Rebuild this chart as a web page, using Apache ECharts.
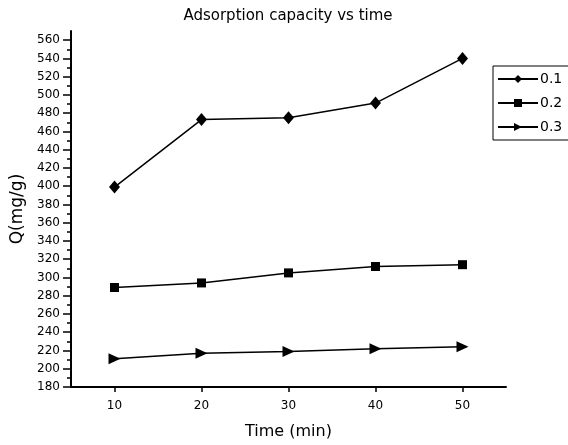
<!DOCTYPE html>
<html>
<head>
<meta charset="utf-8">
<title>Adsorption capacity vs time</title>
<script src="https://cdn.jsdelivr.net/npm/echarts@6/dist/echarts.min.js"></script>
<style>
  html, body { margin: 0; padding: 0; background: #fff; }
  #chart { width: 568px; height: 445px; }
</style>
</head>
<body>
<div id="chart"></div>
<script>
// --- data ---
const times = [10, 20, 30, 40, 50];
const q01 = [399, 473, 475, 491, 540];
const q02 = [289, 294, 305, 312, 314];
const q03 = [211, 217, 219, 222, 224];
const xTicks = [10, 20, 30, 40, 50];
const yTicks = [];
for (let v = 180; v <= 560; v += 20) yTicks.push(v);

const FONT = "DejaVu Sans";

function pairs(xs, ys) {
  return xs.map((x, i) => [x, ys[i]]);
}

function lineSeries(name, values, symbol, size, rotate) {
  return {
    name: name,
    type: "line",
    data: pairs(times, values),
    symbol: symbol,
    symbolSize: size,
    symbolRotate: rotate || 0,
    showAllSymbol: true,
    lineStyle: { color: "#000", width: 1.5 },
    itemStyle: { color: "#000" },
  };
}

const chart = echarts.init(document.getElementById("chart"));

chart.setOption({
  animation: false,
  title: {
    text: "Adsorption capacity vs time",
    left: 288,
    textAlign: "center",
    top: 9,
    padding: 0,
    textStyle: { fontFamily: FONT, fontSize: 15, fontWeight: "normal", color: "#000" },
  },
  legend: {
    orient: "vertical",
    left: 493,
    top: 66,
    padding: [6, 30, 6, 4],
    itemWidth: 40,
    itemHeight: 10,
    itemGap: 10,
    borderColor: "#000",
    borderWidth: 1,
    borderRadius: 0,
    textStyle: { fontFamily: FONT, fontSize: 14, color: "#000", padding: [0, 0, 0, -3] },
    data: ["0.1", "0.2", "0.3"],
  },
  grid: { left: 71, right: 62, top: 31, bottom: 54 },
  xAxis: {
    type: "value",
    min: 5,
    max: 55,
    name: "Time (min)",
    nameLocation: "middle",
    nameGap: 37,
    nameTextStyle: { fontFamily: FONT, fontSize: 16, color: "#000" },
    axisLine: { lineStyle: { color: "#000", width: 2 } },
    axisTick: { customValues: xTicks, length: 5, lineStyle: { color: "#000", width: 1.5 } },
    axisLabel: { customValues: xTicks, margin: 13, fontFamily: FONT, fontSize: 12, color: "#000" },
    splitLine: { show: false },
  },
  yAxis: {
    type: "value",
    min: 180,
    max: 570,
    interval: 20,
    name: "Q(mg/g)",
    nameLocation: "middle",
    nameGap: 40,
    nameTextStyle: { fontFamily: FONT, fontSize: 17, color: "#000" },
    axisLine: { show: true, lineStyle: { color: "#000", width: 2 } },
    axisTick: { show: true, customValues: yTicks, length: 8, lineStyle: { color: "#000", width: 1.5 } },
    minorTick: { show: true, splitNumber: 2, length: 4, lineStyle: { color: "#000", width: 1.5 } },
    axisLabel: { customValues: yTicks, margin: 11, fontFamily: FONT, fontSize: 12, color: "#000" },
    splitLine: { show: false },
  },
  series: [
    lineSeries("0.1", q01, "diamond", [11, 13]),
    lineSeries("0.2", q02, "rect", 9),
    lineSeries("0.3", q03, "triangle", [11, 12], -90),
  ],
});
</script>
</body>
</html>
